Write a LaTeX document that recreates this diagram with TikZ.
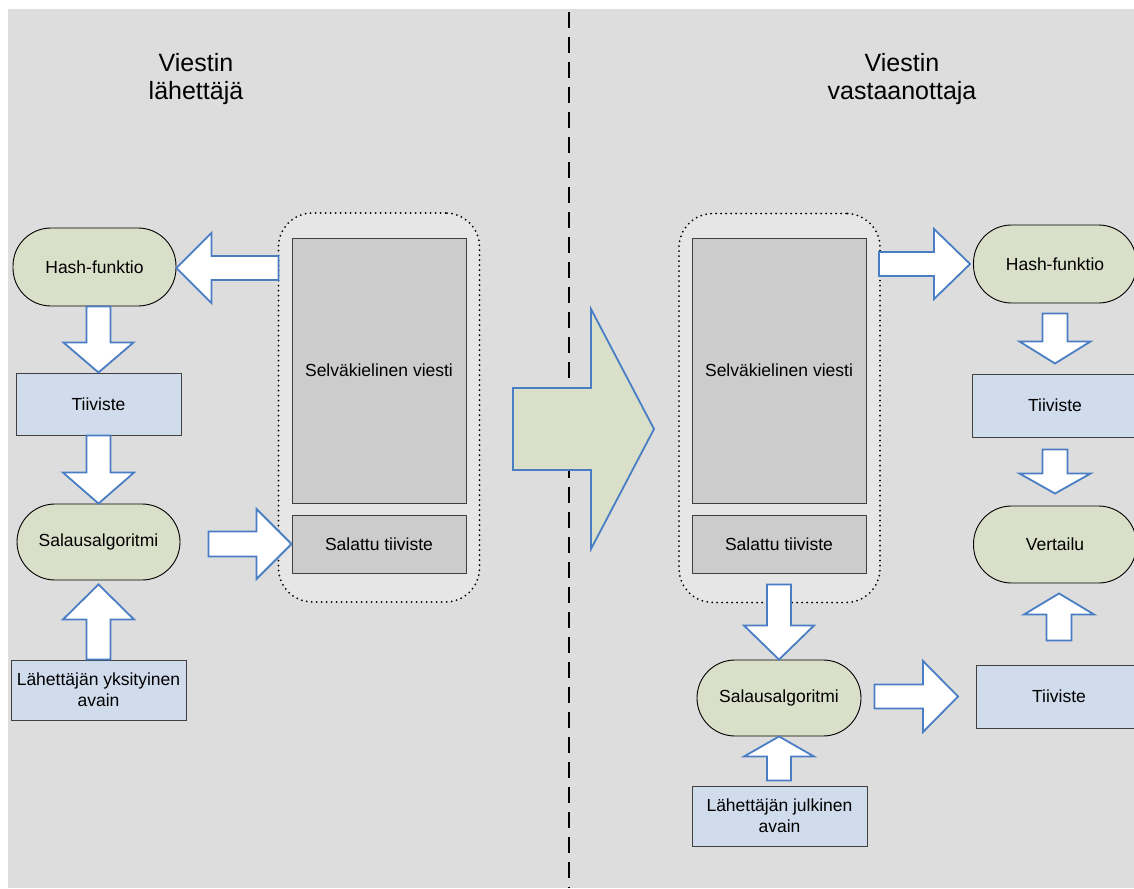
\documentclass[tikz,border=0pt]{standalone}
\usepackage{fontspec}
\setmainfont{Liberation Sans}
\usetikzlibrary{calc}
\definecolor{bgc}{HTML}{DDDDDD}
\definecolor{contc}{HTML}{E6E6E6}
\definecolor{msgc}{HTML}{CCCCCC}
\definecolor{bluec}{HTML}{D0DBEC}
\definecolor{ovalc}{HTML}{D9DFC8}
\definecolor{arrc}{HTML}{4A7EC4}
\definecolor{edgec}{HTML}{404040}
\newcommand{\barr}[5]{%
  \coordinate (ba-h) at ($(#2)!#5!(#1)$);
  \draw[blockarrow] ($(#1)!#3!90:(#2)$) -- ($(ba-h)!#3!90:(#2)$) -- ($(ba-h)!#4!90:(#2)$) -- (#2)
    -- ($(ba-h)!#4!-90:(#2)$) -- ($(ba-h)!#3!-90:(#2)$) -- ($(#1)!#3!-90:(#2)$) -- cycle;}
\begin{document}
\begin{tikzpicture}[x=1pt,y=-1pt,
  txt/.style={font=\fontsize{17.5}{21}\selectfont, align=center, text=black, inner sep=0pt},
  oval/.style={txt, draw=black, line width=0.9pt, fill=ovalc, rounded corners=38pt, minimum height=77pt},
  bluebox/.style={txt, draw=edgec, line width=1pt, fill=bluec},
  msgbox/.style={txt, draw=edgec, line width=1pt, fill=msgc, minimum width=174pt},
  cont/.style={draw=black, fill=contc, line width=2pt, dash pattern=on 0pt off 5pt, line cap=round, rounded corners=34pt, minimum width=201pt, minimum height=389pt, inner sep=0pt},
  title/.style={font=\fontsize{25}{28}\selectfont, align=center, text=black, inner sep=0pt},
  blockarrow/.style={draw=arrc, fill=white, line width=1.8pt, line join=miter},
  bigarrow/.style={draw=arrc, fill=ovalc, line width=1.8pt, line join=miter}]
\useasboundingbox (0,0) rectangle (1134,888);
\fill[white] (0,0) rectangle (1134,888);
\fill[bgc] (8,9) rectangle (1134,888);
% divider
\coordinate (divtop) at (569,9);
\coordinate (divbot) at (569,888);
\draw[black, line width=2.3pt, dash pattern=on 16pt off 9pt] ($(divtop)+(0,3)$) -- (divbot);
% titles
\node[title] (titleL) at (196,79) {Viestin\\lähettäjä};
\node[title] (titleR) at (902,79) {Viestin\\vastaanottaja};
% containers
\node[cont] (contL) at (379,407.5) {};
\node[cont] (contR) at (779.5,408) {};
\node[msgbox, minimum height=265pt] (msgL) at (379,370.5) {Selväkielinen viesti};
\node[msgbox, minimum height=58pt] (salL) at (379,544) {Salattu tiiviste};
\node[msgbox, minimum height=265pt] (msgR) at (779,370.5) {Selväkielinen viesti};
\node[msgbox, minimum height=58pt] (salR) at (779,544) {Salattu tiiviste};
% left column
\node[oval, minimum width=163pt, minimum height=78pt] (hashL) at (94.5,267) {Hash-funktio};
\node[bluebox, minimum width=165pt, minimum height=62pt] (tiivL) at (98.5,404) {Tiiviste};
\node[oval, minimum width=163pt, minimum height=76pt] (algL) at (98.5,542) {Salausalgoritmi};
\node[bluebox, minimum width=175pt, minimum height=60pt] (keyL) at (98.5,690) {Lähettäjän yksityinen\\avain};
% right column
\node[oval, minimum width=164pt, minimum height=76pt] (algR) at (779,698) {Salausalgoritmi};
\node[bluebox, minimum width=175pt, minimum height=60pt] (keyR) at (779.5,816) {Lähettäjän julkinen\\avain};
\node[oval, minimum width=163pt, minimum height=78pt] (hashR) at (1055,264) {Hash-funktio};
\node[bluebox, minimum width=165pt, minimum height=63pt] (tiivR) at (1055,405.5) {Tiiviste};
\node[oval, minimum width=163pt, minimum height=77pt] (vertR) at (1055,544.5) {Vertailu};
\node[bluebox, minimum width=165pt, minimum height=63pt] (tiivR2) at (1059,696.5) {Tiiviste};
% arrow end points
\coordinate (a1h) at ($(hashL.east)+(0,1)$);
\coordinate (a1t) at ($(contL.west |- a1h)+(1,0)$);
\coordinate (a2t) at (tiivL.north |- hashL.south);
\coordinate (a5h) at (salL.west);
\coordinate (a5t) at ($(algL.east |- a5h)+(28,0)$);
\coordinate (a4h) at ($(algL.south)+(0,4)$);
\coordinate (bigt) at (513,429);
\coordinate (bigh) at (654,429);
\coordinate (r1h) at ($(hashR.west)+(-3,0)$);
\coordinate (r1t) at ($(contR.east |- r1h)+(-2,0)$);
\coordinate (r2t) at ($(hashR.south)+(0,10)$);
\coordinate (r2h) at ($(tiivR.north)+(0,-10)$);
\coordinate (r3t) at ($(tiivR.south)+(0,12)$);
\coordinate (r3h) at ($(vertR.north)+(0,-12)$);
\coordinate (r4t) at ($(tiivR2.north)+(0,-24)$);
\coordinate (r4h) at ($(vertR.south)+(4,10)$);
\coordinate (r5t) at ($(contR.south)+(-0.5,-19)$);
\coordinate (r6t) at ($(keyR.north)+(-0.5,-5)$);
\coordinate (r7h) at ($(tiivR2.west)+(-18,0)$);
\coordinate (r7t) at ($(algR.east |- r7h)+(13,0)$);
% block arrows
\barr{a1t}{a1h}{12pt}{35pt}{35pt}
\barr{a2t}{tiivL.north}{12pt}{35pt}{30pt}
\barr{tiivL.south}{algL.north}{12pt}{35.5pt}{31pt}
\barr{keyL.north}{a4h}{12pt}{35.5pt}{35pt}
\barr{a5t}{a5h}{12.5pt}{35pt}{35pt}
\draw[bigarrow] ($(bigt)+(0,-41)$) -- ($(bigh)+(-63,-41)$) -- ($(bigh)+(-63,-120)$) -- (bigh)
  -- ($(bigh)+(-63,120)$) -- ($(bigh)+(-63,41)$) -- ($(bigt)+(0,41)$) -- cycle;
\barr{r1t}{r1h}{12pt}{35pt}{36pt}
\barr{r2t}{r2h}{12.5pt}{35.5pt}{22pt}
\barr{r3t}{r3h}{12.5pt}{35.5pt}{20pt}
\barr{r4t}{r4h}{12.5pt}{35pt}{21pt}
\barr{r5t}{algR.north}{12pt}{35pt}{34pt}
\barr{r6t}{algR.south}{12pt}{35pt}{20pt}
\barr{r7t}{r7h}{12pt}{35.5pt}{35pt}
\end{tikzpicture}
\end{document}
